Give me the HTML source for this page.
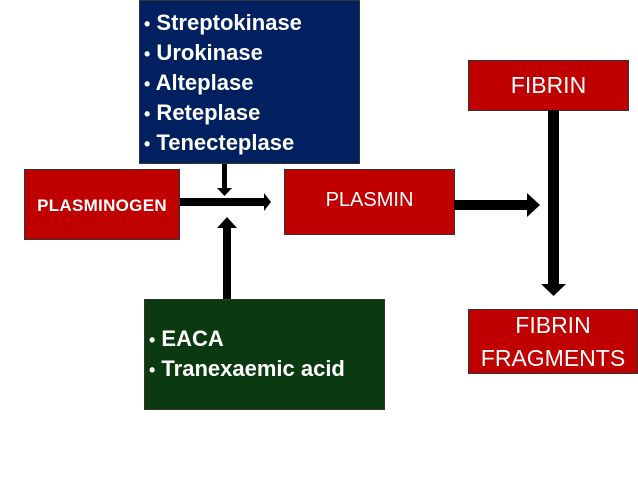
<!DOCTYPE html>
<html><head><style>
body{margin:0;width:638px;height:479px;background:#fff;position:relative;overflow:hidden;font-family:"Liberation Sans",sans-serif;}
.b{position:absolute;box-sizing:border-box;border:1px solid #333;color:#fff;}
.red{background:#c00000;}
.c{display:flex;align-items:center;justify-content:center;text-align:center;}
.t{position:absolute;white-space:nowrap;font-weight:bold;font-size:22px;color:#fff;line-height:26px;}
</style></head><body>
<div class="b" style="left:139px;top:0;width:221px;height:164px;background:#002060;"></div>
<div class="t" style="left:144px;top:10px;"><span style="font-size:18px">•</span> Streptokinase</div>
<div class="t" style="left:144px;top:40px;"><span style="font-size:18px">•</span> Urokinase</div>
<div class="t" style="left:144px;top:70px;"><span style="font-size:18px">•</span> Alteplase</div>
<div class="t" style="left:144px;top:100px;"><span style="font-size:18px">•</span> Reteplase</div>
<div class="t" style="left:144px;top:130px;"><span style="font-size:18px">•</span> Tenecteplase</div>

<div class="b red c" style="left:24px;top:169px;width:156px;height:71px;font-weight:bold;font-size:17px;letter-spacing:0.3px;padding-top:2px;">PLASMINOGEN</div>
<div class="b red c" style="left:284px;top:169px;width:171px;height:66px;font-size:20px;padding-bottom:4px;">PLASMIN</div>
<div class="b red c" style="left:468px;top:60px;width:161px;height:51px;font-size:23px;">FIBRIN</div>
<div class="b red c" style="left:468px;top:309px;width:170px;height:65px;font-size:23px;line-height:33px;">FIBRIN<br>FRAGMENTS</div>

<div class="b" style="left:144px;top:299px;width:241px;height:111px;background:#0b3a10;"></div>
<div class="t" style="left:149px;top:326px;"><span style="font-size:18px">•</span> EACA</div>
<div class="t" style="left:149px;top:356px;"><span style="font-size:18px">•</span> Tranexaemic acid</div>

<svg width="638" height="479" style="position:absolute;left:0;top:0">
<rect x="180" y="198" width="86" height="8" fill="#000"/>
<polygon points="264,193 271,202 264,211" fill="#000"/>
<rect x="222" y="164" width="5" height="25" fill="#000"/>
<polygon points="217,188 232,188 224.5,196" fill="#000"/>
<rect x="223" y="227" width="8" height="72" fill="#000"/>
<polygon points="217,228 237,228 227,217" fill="#000"/>
<rect x="454" y="200" width="74" height="10" fill="#000"/>
<polygon points="527,193 540,205 527,217" fill="#000"/>
<rect x="548" y="110" width="11" height="175" fill="#000"/>
<polygon points="541,284 566,284 553.5,296" fill="#000"/>
</svg>
</body></html>
